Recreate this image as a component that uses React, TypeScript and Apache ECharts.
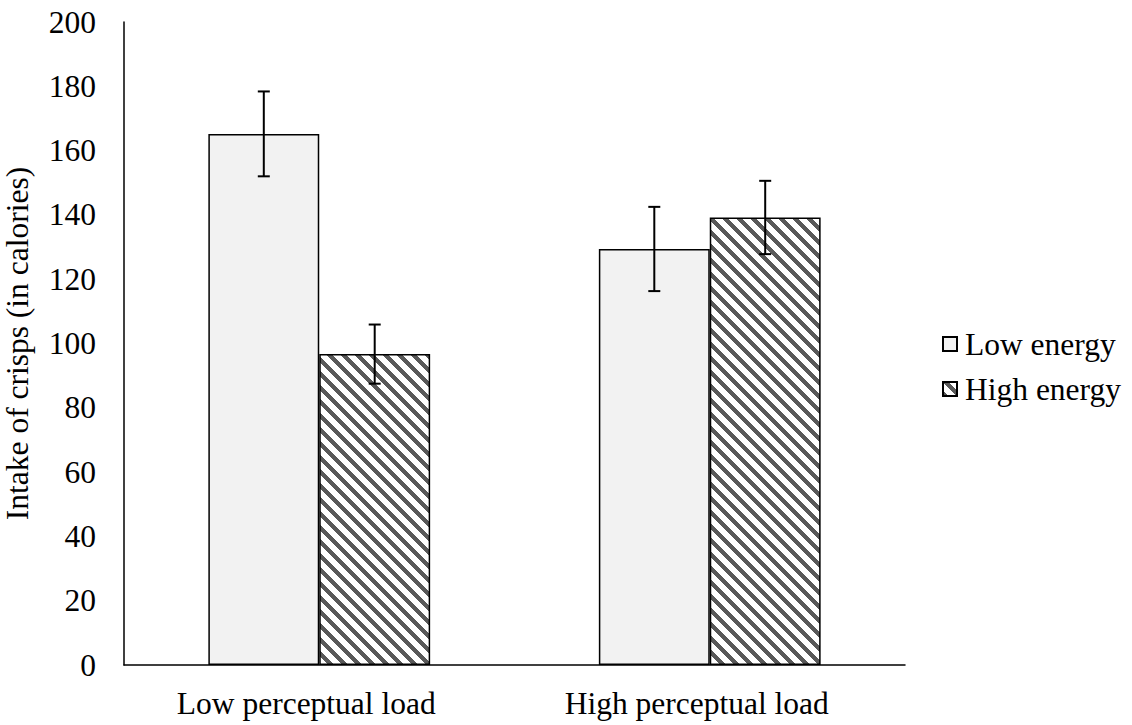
import React, { useEffect, useRef } from "react";
import * as echarts from "echarts";

const categories = ["Low perceptual load", "High perceptual load"];
const seriesNames = ["Low energy", "High energy"];
const lowEnergy = [165.2, 129.4];
const highEnergy = [96.7, 139.2];
const lowEnergyErr = [13.2, 13.1];
const highEnergyErr = [9.2, 11.4];
const yTicks = [0, 200, 20];

const BAR_RATIO = 0.284;

function makeHatch(): HTMLCanvasElement {
  const P = 14;
  const D = 6;
  const c = document.createElement("canvas");
  c.width = P;
  c.height = P;
  const ctx = c.getContext("2d")!;
  const img = ctx.createImageData(P, P);
  for (let y = 0; y < P; y++) {
    for (let x = 0; x < P; x++) {
      const dark = (((x - y) % P) + P) % P < D;
      const v = dark ? 0x59 : 0xff;
      const o = (y * P + x) * 4;
      img.data[o] = v;
      img.data[o + 1] = v;
      img.data[o + 2] = v;
      img.data[o + 3] = 255;
    }
  }
  ctx.putImageData(img, 0, 0);
  return c;
}

export default function App() {
  const ref = useRef<HTMLDivElement>(null);
  useEffect(() => {
    if (!ref.current) return;
    const chart = echarts.init(ref.current, undefined, { renderer: "svg" });
    const hatch = makeHatch();
    const font = "Liberation Serif";
    const fs = 31.5;
    const errData = (vals: number[], errs: number[]) =>
      vals.map((v, i) => [i, v - errs[i], v + errs[i]]);
    const errSeries = (vals: number[], errs: number[], side: number) => ({
      type: "custom",
      silent: true,
      z: 10,
      data: errData(vals, errs),
      renderItem: (params: any, api: any) => {
        const idx = api.value(0);
        const lo = api.coord([idx, api.value(1)]);
        const hi = api.coord([idx, api.value(2)]);
        const band = api.size([1, 0])[0];
        const x = lo[0] + (side * band * BAR_RATIO) / 2;
        const cap = 6;
        const style = { stroke: "#000", lineWidth: 2 };
        return {
          type: "group",
          children: [
            { type: "line", shape: { x1: x, y1: lo[1], x2: x, y2: hi[1] }, style },
            { type: "line", shape: { x1: x - cap, y1: hi[1], x2: x + cap, y2: hi[1] }, style },
            { type: "line", shape: { x1: x - cap, y1: lo[1], x2: x + cap, y2: lo[1] }, style },
          ],
        };
      },
    });
    chart.setOption({
      animation: false,
      backgroundColor: "#ffffff",
      textStyle: { fontFamily: font },
      grid: {
        left: 124,
        right: 227,
        top: 22,
        bottom: 60,
        containLabel: false,
        outerBoundsMode: "none",
      },
      legend: {
        orient: "vertical",
        left: 942,
        top: 328,
        icon: "rect",
        itemWidth: 14,
        itemHeight: 14,
        itemGap: 13,
        padding: 0,
        data: seriesNames,
        textStyle: { fontSize: fs, fontFamily: font, color: "#000", padding: [0, 0, 0, 3] },
      },
      xAxis: {
        type: "category",
        data: categories,
        axisLine: { lineStyle: { color: "#000", width: 1.5 } },
        axisTick: { show: false },
        axisLabel: {
          fontSize: fs,
          fontFamily: font,
          color: "#000",
          margin: 22,
          padding: [0, 26, 0, 0],
        },
      },
      yAxis: {
        type: "value",
        min: yTicks[0],
        max: yTicks[1],
        interval: yTicks[2],
        name: "Intake of crisps (in calories)",
        nameLocation: "middle",
        nameGap: 91,
        nameRotate: 90,
        nameTextStyle: { fontSize: fs, fontFamily: font, color: "#000" },
        axisLine: { show: true, lineStyle: { color: "#000", width: 1.5 } },
        axisTick: { show: false },
        splitLine: { show: false },
        axisLabel: { fontSize: fs, fontFamily: font, color: "#000", margin: 28 },
      },
      series: [
        {
          name: seriesNames[0],
          type: "bar",
          data: lowEnergy,
          barWidth: (BAR_RATIO * 100).toFixed(1) + "%",
          barGap: "0%",
          itemStyle: { color: "#f2f2f2", borderColor: "#000", borderWidth: 1.5 },
        },
        {
          name: seriesNames[1],
          type: "bar",
          data: highEnergy,
          barWidth: (BAR_RATIO * 100).toFixed(1) + "%",
          barGap: "0%",
          itemStyle: {
            color: { image: hatch, repeat: "repeat" },
            borderColor: "#000",
            borderWidth: 1.5,
          },
        },
        errSeries(lowEnergy, lowEnergyErr, -1),
        errSeries(highEnergy, highEnergyErr, 1),
      ],
    });
    return () => chart.dispose();
  }, []);
  return <div ref={ref} style={{ width: 1132, height: 725, position: "absolute", left: 0, top: 0 }} />;
}
